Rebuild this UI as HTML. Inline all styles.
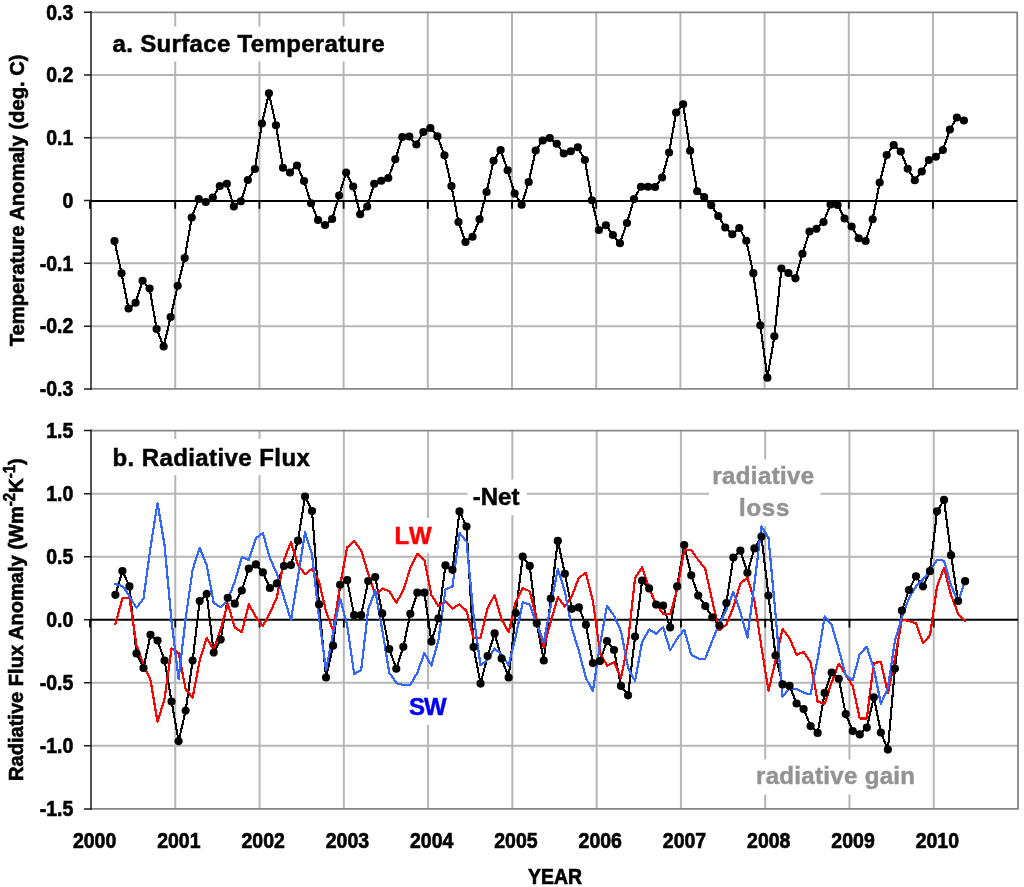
<!DOCTYPE html>
<html lang="en"><head><meta charset="utf-8"><title>Surface Temperature and Radiative Flux</title>
<style>html,body{margin:0;padding:0;background:#fff}body{width:1024px;height:887px;overflow:hidden}svg{display:block}text{font-family:"Liberation Sans", sans-serif;font-weight:bold}</style>
</head><body>
<svg width="1024" height="887" viewBox="0 0 1024 887">
<rect x="0" y="0" width="1024" height="887" fill="#fff"/>
<path d="M91 75.07H1017.2M91 137.83H1017.2M91 263.37H1017.2M91 326.13H1017.2M175.2 12.3V388.9M259.4 12.3V388.9M343.6 12.3V388.9M427.8 12.3V388.9M512 12.3V388.9M596.2 12.3V388.9M680.4 12.3V388.9M764.6 12.3V388.9M848.8 12.3V388.9M933 12.3V388.9" stroke="#b6b6b6" stroke-width="2" fill="none"/>
<rect x="105" y="26.5" width="287" height="35" fill="#fff"/>
<path d="M91 12.3H1017.2V388.9H91" stroke="#878787" stroke-width="1.8" fill="none"/>
<path d="M91 11.3V389.9" stroke="#1a1a1a" stroke-width="1.5" fill="none"/>
<path d="M84 12.3H91M84 75.07H91M84 137.83H91M84 200.6H91M84 263.37H91M84 326.13H91M84 388.9H91" stroke="#1a1a1a" stroke-width="1.5" fill="none"/>
<text transform="translate(73.3,19.6) scale(0.975,1.08)" font-size="20" text-anchor="end" stroke="#000" stroke-width="0.6">0.3</text>
<text transform="translate(73.3,82.37) scale(0.975,1.08)" font-size="20" text-anchor="end" stroke="#000" stroke-width="0.6">0.2</text>
<text transform="translate(73.3,145.13) scale(0.975,1.08)" font-size="20" text-anchor="end" stroke="#000" stroke-width="0.6">0.1</text>
<text transform="translate(73.3,207.9) scale(0.975,1.08)" font-size="20" text-anchor="end" stroke="#000" stroke-width="0.6">0</text>
<text transform="translate(73.3,270.67) scale(0.975,1.08)" font-size="20" text-anchor="end" stroke="#000" stroke-width="0.6">-0.1</text>
<text transform="translate(73.3,333.43) scale(0.975,1.08)" font-size="20" text-anchor="end" stroke="#000" stroke-width="0.6">-0.2</text>
<text transform="translate(73.3,396.2) scale(0.975,1.08)" font-size="20" text-anchor="end" stroke="#000" stroke-width="0.6">-0.3</text>
<path d="M91 493.65H1018M91 556.7H1018M91 682.8H1018M91 745.85H1018M175.27 430.6V808.9M259.55 430.6V808.9M343.82 430.6V808.9M428.09 430.6V808.9M512.36 430.6V808.9M596.64 430.6V808.9M680.91 430.6V808.9M765.18 430.6V808.9M849.45 430.6V808.9M933.73 430.6V808.9" stroke="#b6b6b6" stroke-width="2" fill="none"/>
<rect x="105" y="439" width="213" height="36" fill="#fff"/>
<rect x="390" y="518" width="48" height="35" fill="#fff"/>
<rect x="467.5" y="479.5" width="59.5" height="35.5" fill="#fff"/>
<rect x="709" y="459.5" width="111.5" height="66.5" fill="#fff"/>
<rect x="402" y="689.4" width="50" height="35.4" fill="#fff"/>
<rect x="750" y="759.5" width="171" height="35" fill="#fff"/>
<path d="M91 430.6H1018V808.9H91" stroke="#878787" stroke-width="1.8" fill="none"/>
<path d="M91 429.6V809.9" stroke="#1a1a1a" stroke-width="1.5" fill="none"/>
<path d="M84 430.6H91M84 493.65H91M84 556.7H91M84 619.75H91M84 682.8H91M84 745.85H91M84 808.9H91" stroke="#1a1a1a" stroke-width="1.5" fill="none"/>
<text transform="translate(73.3,437.9) scale(0.975,1.08)" font-size="20" text-anchor="end" stroke="#000" stroke-width="0.6">1.5</text>
<text transform="translate(73.3,500.95) scale(0.975,1.08)" font-size="20" text-anchor="end" stroke="#000" stroke-width="0.6">1.0</text>
<text transform="translate(73.3,564) scale(0.975,1.08)" font-size="20" text-anchor="end" stroke="#000" stroke-width="0.6">0.5</text>
<text transform="translate(73.3,627.05) scale(0.975,1.08)" font-size="20" text-anchor="end" stroke="#000" stroke-width="0.6">0.0</text>
<text transform="translate(73.3,690.1) scale(0.975,1.08)" font-size="20" text-anchor="end" stroke="#000" stroke-width="0.6">-0.5</text>
<text transform="translate(73.3,753.15) scale(0.975,1.08)" font-size="20" text-anchor="end" stroke="#000" stroke-width="0.6">-1.0</text>
<text transform="translate(73.3,816.2) scale(0.975,1.08)" font-size="20" text-anchor="end" stroke="#000" stroke-width="0.6">-1.5</text>
<path d="M90 201H1017.2" stroke="#000" stroke-width="2.1" fill="none"/><path d="M90 201V208.8M175.2 201V208.8M259.4 201V208.8M343.6 201V208.8M427.8 201V208.8M512 201V208.8M596.2 201V208.8M680.4 201V208.8M764.6 201V208.8M848.8 201V208.8M933 201V208.8" stroke="#000" stroke-width="1.8" fill="none"/>
<path d="M90 619.75H1018" stroke="#000" stroke-width="2.1" fill="none"/><path d="M90 619.75V627.55M175.27 619.75V627.55M259.55 619.75V627.55M343.82 619.75V627.55M428.09 619.75V627.55M512.36 619.75V627.55M596.64 619.75V627.55M680.91 619.75V627.55M765.18 619.75V627.55M849.45 619.75V627.55M933.73 619.75V627.55" stroke="#000" stroke-width="1.8" fill="none"/>
<polyline points="115.4,594.8 122.42,571 129.44,586.4 136.47,653.5 143.49,668 150.51,634.8 157.53,640.6 164.56,660.5 171.58,701.5 178.6,741.2 185.62,710.7 192.65,660.5 199.67,601 206.69,593.8 213.72,652.5 220.74,639.5 227.76,597.8 234.78,603.7 241.81,590.5 248.83,568.6 255.85,564.4 262.87,572.4 269.89,588 276.92,583.4 283.94,566 290.96,565.1 297.99,540.7 305.01,496.6 312.03,511 319.05,604.4 326.08,677.5 333.1,645.7 340.12,584.8 347.14,580.2 354.16,615.2 361.19,615.2 368.21,581 375.23,577.1 382.25,613.4 389.28,649.1 396.3,668.75 403.32,646.8 410.35,613.8 417.37,592.7 424.39,592.7 431.41,641.6 438.44,618.4 445.46,565.4 452.48,569.8 459.5,511.4 466.52,526.5 473.55,647.1 480.57,683.6 487.59,656.1 494.62,633.4 501.64,658.6 508.66,677.5 515.68,613.2 522.71,556.6 529.73,565.9 536.75,623.3 543.77,660.5 550.79,598.5 557.82,540.9 564.84,573.75 571.86,608.8 578.88,607.4 585.91,624.8 592.93,663.1 599.95,661.1 606.98,641 614,650 621.02,685.9 628.04,695.3 635.06,636.6 642.09,580.6 649.11,588.4 656.13,604.6 663.15,605.6 670.18,627.4 677.2,586.4 684.22,545 691.25,575.3 698.27,595.6 705.29,606 712.31,617.3 719.33,625.5 726.36,603 733.38,557.5 740.4,550.7 747.42,572.8 754.45,548.4 761.47,536.6 768.49,595.6 775.51,655.5 782.54,684.4 789.56,685.9 796.58,703.5 803.61,709 810.63,726.1 817.65,732.9 824.67,692.9 831.69,672.5 838.72,678.75 845.74,714.1 852.76,731.1 859.78,734.4 866.81,727.6 873.83,697.3 880.85,732.5 887.88,749.6 894.9,668.6 901.92,610.5 908.94,590 915.96,576.3 922.99,586.4 930.01,571.2 937.03,511.25 944.05,499.9 951.08,555.2 958.1,601.1 965.12,581.2" fill="none" stroke="#000" stroke-width="2.1" stroke-linejoin="round" stroke-linecap="round" shape-rendering="crispEdges"/>
<polyline points="115.4,624 122.42,598.2 129.44,597.8 136.47,645 143.49,664.5 150.51,680 157.53,722 164.56,698.6 171.58,648.4 178.6,653.1 185.62,688.9 192.65,697.7 199.67,660.5 206.69,637.9 213.72,649.9 220.74,629 227.76,603.7 234.78,627.4 241.81,632.2 248.83,604.2 255.85,617 262.87,626 269.89,613 276.92,597.2 283.94,560.1 290.96,542.1 297.99,565 305.01,574.3 312.03,568.9 319.05,581.6 326.08,611.5 333.1,630.3 340.12,585.5 347.14,547.4 354.16,540.9 361.19,550.3 368.21,573.75 375.23,595.2 382.25,588.4 389.28,591.3 396.3,602.7 403.32,590.4 410.35,567.9 417.37,553.8 424.39,560.1 431.41,595.2 438.44,606 445.46,601.1 452.48,608.5 459.5,604.2 466.52,611 473.55,638 480.57,637.7 487.59,607.9 494.62,595.2 501.64,619.5 508.66,632.2 515.68,602 522.71,588 529.73,591.3 536.75,619.5 543.77,647.5 550.79,621.5 557.82,597.2 564.84,606.6 571.86,596.2 578.88,577.7 585.91,572.8 592.93,601.1 599.95,652 606.98,665.8 614,662.1 621.02,678.1 628.04,642 635.06,577.7 642.09,567.3 649.11,588.4 656.13,604 663.15,613.8 670.18,614.4 677.2,589.4 684.22,550.3 691.25,549.9 698.27,560.1 705.29,568.9 712.31,601.1 719.33,630.4 726.36,624.5 733.38,607 740.4,583.5 747.42,577.7 754.45,601.1 761.47,647 768.49,690.8 775.51,660.7 782.54,628.9 789.56,638.1 796.58,654.7 803.61,652 810.63,662.6 817.65,701.7 824.67,703.8 831.69,682.3 838.72,663.7 845.74,674.5 852.76,686.2 859.78,718.4 866.81,718.4 873.83,663.1 880.85,661.8 887.88,693 894.9,658.8 901.92,619.5 908.94,621.2 915.96,623.2 922.99,643 930.01,635.4 937.03,586.4 944.05,567.9 951.08,595.2 958.1,613.8 965.12,621" fill="none" stroke="#ff0000" stroke-width="2.2" stroke-linejoin="round" stroke-linecap="round" shape-rendering="crispEdges"/>
<polyline points="115.4,584.1 122.42,585.9 129.44,596.2 136.47,607.9 143.49,598.6 150.51,547.4 157.53,503 164.56,545.4 171.58,621.5 178.6,679.1 185.62,618.5 192.65,569.8 199.67,547.8 206.69,565 213.72,603 220.74,607.3 227.76,600.1 234.78,581.6 241.81,557.1 248.83,560.1 255.85,538.2 262.87,533 269.89,558.1 276.92,573.75 283.94,597.2 290.96,620.3 297.99,577 305.01,532.3 312.03,554.2 319.05,618 326.08,670.3 333.1,633 340.12,598.5 347.14,625 354.16,674.2 361.19,669.9 368.21,609.5 375.23,590.4 382.25,630 389.28,672.7 396.3,683 403.32,685.2 410.35,684.8 417.37,672.7 424.39,653.1 431.41,665.4 438.44,640 445.46,589.6 452.48,586.4 459.5,533 466.52,541.5 473.55,615.6 480.57,665.4 487.59,659.6 494.62,648.6 501.64,654.3 508.66,665.4 515.68,637 522.71,602.2 529.73,604.5 536.75,624.4 543.77,642 550.79,605.5 557.82,568.9 564.84,591.3 571.86,628.4 578.88,651 585.91,678.1 592.93,690.8 599.95,645 606.98,605.6 614,615.7 621.02,631.3 628.04,667.4 635.06,681.1 642.09,642 649.11,629.5 656.13,633.7 663.15,627.4 670.18,650.2 677.2,638.6 684.22,629.8 691.25,654.7 698.27,658.6 705.29,658.6 712.31,640.5 719.33,623.5 726.36,609.8 733.38,591.7 740.4,612.2 747.42,637.5 754.45,583.5 761.47,526.5 768.49,537.6 775.51,614 782.54,696.7 789.56,688.3 796.58,688.9 803.61,692.8 810.63,694.3 817.65,659 824.67,616.5 831.69,625 838.72,649.1 845.74,675.4 852.76,680.3 859.78,653.9 866.81,646.7 873.83,668.6 880.85,703.75 887.88,688.1 894.9,641 901.92,617 908.94,598.2 915.96,586.4 922.99,579.6 930.01,570.8 937.03,559.7 944.05,560.7 951.08,585.5 958.1,602 965.12,581.2" fill="none" stroke="#3366ff" stroke-width="2.2" stroke-linejoin="round" stroke-linecap="round" shape-rendering="crispEdges"/>
<path d="M111.3 594.8a4.1 4.1 0 1 0 8.2 0a4.1 4.1 0 1 0 -8.2 0zM118.32 571a4.1 4.1 0 1 0 8.2 0a4.1 4.1 0 1 0 -8.2 0zM125.34 586.4a4.1 4.1 0 1 0 8.2 0a4.1 4.1 0 1 0 -8.2 0zM132.37 653.5a4.1 4.1 0 1 0 8.2 0a4.1 4.1 0 1 0 -8.2 0zM139.39 668a4.1 4.1 0 1 0 8.2 0a4.1 4.1 0 1 0 -8.2 0zM146.41 634.8a4.1 4.1 0 1 0 8.2 0a4.1 4.1 0 1 0 -8.2 0zM153.44 640.6a4.1 4.1 0 1 0 8.2 0a4.1 4.1 0 1 0 -8.2 0zM160.46 660.5a4.1 4.1 0 1 0 8.2 0a4.1 4.1 0 1 0 -8.2 0zM167.48 701.5a4.1 4.1 0 1 0 8.2 0a4.1 4.1 0 1 0 -8.2 0zM174.5 741.2a4.1 4.1 0 1 0 8.2 0a4.1 4.1 0 1 0 -8.2 0zM181.53 710.7a4.1 4.1 0 1 0 8.2 0a4.1 4.1 0 1 0 -8.2 0zM188.55 660.5a4.1 4.1 0 1 0 8.2 0a4.1 4.1 0 1 0 -8.2 0zM195.57 601a4.1 4.1 0 1 0 8.2 0a4.1 4.1 0 1 0 -8.2 0zM202.59 593.8a4.1 4.1 0 1 0 8.2 0a4.1 4.1 0 1 0 -8.2 0zM209.62 652.5a4.1 4.1 0 1 0 8.2 0a4.1 4.1 0 1 0 -8.2 0zM216.64 639.5a4.1 4.1 0 1 0 8.2 0a4.1 4.1 0 1 0 -8.2 0zM223.66 597.8a4.1 4.1 0 1 0 8.2 0a4.1 4.1 0 1 0 -8.2 0zM230.68 603.7a4.1 4.1 0 1 0 8.2 0a4.1 4.1 0 1 0 -8.2 0zM237.71 590.5a4.1 4.1 0 1 0 8.2 0a4.1 4.1 0 1 0 -8.2 0zM244.73 568.6a4.1 4.1 0 1 0 8.2 0a4.1 4.1 0 1 0 -8.2 0zM251.75 564.4a4.1 4.1 0 1 0 8.2 0a4.1 4.1 0 1 0 -8.2 0zM258.77 572.4a4.1 4.1 0 1 0 8.2 0a4.1 4.1 0 1 0 -8.2 0zM265.79 588a4.1 4.1 0 1 0 8.2 0a4.1 4.1 0 1 0 -8.2 0zM272.82 583.4a4.1 4.1 0 1 0 8.2 0a4.1 4.1 0 1 0 -8.2 0zM279.84 566a4.1 4.1 0 1 0 8.2 0a4.1 4.1 0 1 0 -8.2 0zM286.86 565.1a4.1 4.1 0 1 0 8.2 0a4.1 4.1 0 1 0 -8.2 0zM293.88 540.7a4.1 4.1 0 1 0 8.2 0a4.1 4.1 0 1 0 -8.2 0zM300.91 496.6a4.1 4.1 0 1 0 8.2 0a4.1 4.1 0 1 0 -8.2 0zM307.93 511a4.1 4.1 0 1 0 8.2 0a4.1 4.1 0 1 0 -8.2 0zM314.95 604.4a4.1 4.1 0 1 0 8.2 0a4.1 4.1 0 1 0 -8.2 0zM321.98 677.5a4.1 4.1 0 1 0 8.2 0a4.1 4.1 0 1 0 -8.2 0zM329 645.7a4.1 4.1 0 1 0 8.2 0a4.1 4.1 0 1 0 -8.2 0zM336.02 584.8a4.1 4.1 0 1 0 8.2 0a4.1 4.1 0 1 0 -8.2 0zM343.04 580.2a4.1 4.1 0 1 0 8.2 0a4.1 4.1 0 1 0 -8.2 0zM350.06 615.2a4.1 4.1 0 1 0 8.2 0a4.1 4.1 0 1 0 -8.2 0zM357.09 615.2a4.1 4.1 0 1 0 8.2 0a4.1 4.1 0 1 0 -8.2 0zM364.11 581a4.1 4.1 0 1 0 8.2 0a4.1 4.1 0 1 0 -8.2 0zM371.13 577.1a4.1 4.1 0 1 0 8.2 0a4.1 4.1 0 1 0 -8.2 0zM378.15 613.4a4.1 4.1 0 1 0 8.2 0a4.1 4.1 0 1 0 -8.2 0zM385.18 649.1a4.1 4.1 0 1 0 8.2 0a4.1 4.1 0 1 0 -8.2 0zM392.2 668.75a4.1 4.1 0 1 0 8.2 0a4.1 4.1 0 1 0 -8.2 0zM399.22 646.8a4.1 4.1 0 1 0 8.2 0a4.1 4.1 0 1 0 -8.2 0zM406.25 613.8a4.1 4.1 0 1 0 8.2 0a4.1 4.1 0 1 0 -8.2 0zM413.27 592.7a4.1 4.1 0 1 0 8.2 0a4.1 4.1 0 1 0 -8.2 0zM420.29 592.7a4.1 4.1 0 1 0 8.2 0a4.1 4.1 0 1 0 -8.2 0zM427.31 641.6a4.1 4.1 0 1 0 8.2 0a4.1 4.1 0 1 0 -8.2 0zM434.34 618.4a4.1 4.1 0 1 0 8.2 0a4.1 4.1 0 1 0 -8.2 0zM441.36 565.4a4.1 4.1 0 1 0 8.2 0a4.1 4.1 0 1 0 -8.2 0zM448.38 569.8a4.1 4.1 0 1 0 8.2 0a4.1 4.1 0 1 0 -8.2 0zM455.4 511.4a4.1 4.1 0 1 0 8.2 0a4.1 4.1 0 1 0 -8.2 0zM462.42 526.5a4.1 4.1 0 1 0 8.2 0a4.1 4.1 0 1 0 -8.2 0zM469.45 647.1a4.1 4.1 0 1 0 8.2 0a4.1 4.1 0 1 0 -8.2 0zM476.47 683.6a4.1 4.1 0 1 0 8.2 0a4.1 4.1 0 1 0 -8.2 0zM483.49 656.1a4.1 4.1 0 1 0 8.2 0a4.1 4.1 0 1 0 -8.2 0zM490.51 633.4a4.1 4.1 0 1 0 8.2 0a4.1 4.1 0 1 0 -8.2 0zM497.54 658.6a4.1 4.1 0 1 0 8.2 0a4.1 4.1 0 1 0 -8.2 0zM504.56 677.5a4.1 4.1 0 1 0 8.2 0a4.1 4.1 0 1 0 -8.2 0zM511.58 613.2a4.1 4.1 0 1 0 8.2 0a4.1 4.1 0 1 0 -8.2 0zM518.61 556.6a4.1 4.1 0 1 0 8.2 0a4.1 4.1 0 1 0 -8.2 0zM525.63 565.9a4.1 4.1 0 1 0 8.2 0a4.1 4.1 0 1 0 -8.2 0zM532.65 623.3a4.1 4.1 0 1 0 8.2 0a4.1 4.1 0 1 0 -8.2 0zM539.67 660.5a4.1 4.1 0 1 0 8.2 0a4.1 4.1 0 1 0 -8.2 0zM546.69 598.5a4.1 4.1 0 1 0 8.2 0a4.1 4.1 0 1 0 -8.2 0zM553.72 540.9a4.1 4.1 0 1 0 8.2 0a4.1 4.1 0 1 0 -8.2 0zM560.74 573.75a4.1 4.1 0 1 0 8.2 0a4.1 4.1 0 1 0 -8.2 0zM567.76 608.8a4.1 4.1 0 1 0 8.2 0a4.1 4.1 0 1 0 -8.2 0zM574.78 607.4a4.1 4.1 0 1 0 8.2 0a4.1 4.1 0 1 0 -8.2 0zM581.81 624.8a4.1 4.1 0 1 0 8.2 0a4.1 4.1 0 1 0 -8.2 0zM588.83 663.1a4.1 4.1 0 1 0 8.2 0a4.1 4.1 0 1 0 -8.2 0zM595.85 661.1a4.1 4.1 0 1 0 8.2 0a4.1 4.1 0 1 0 -8.2 0zM602.88 641a4.1 4.1 0 1 0 8.2 0a4.1 4.1 0 1 0 -8.2 0zM609.9 650a4.1 4.1 0 1 0 8.2 0a4.1 4.1 0 1 0 -8.2 0zM616.92 685.9a4.1 4.1 0 1 0 8.2 0a4.1 4.1 0 1 0 -8.2 0zM623.94 695.3a4.1 4.1 0 1 0 8.2 0a4.1 4.1 0 1 0 -8.2 0zM630.96 636.6a4.1 4.1 0 1 0 8.2 0a4.1 4.1 0 1 0 -8.2 0zM637.99 580.6a4.1 4.1 0 1 0 8.2 0a4.1 4.1 0 1 0 -8.2 0zM645.01 588.4a4.1 4.1 0 1 0 8.2 0a4.1 4.1 0 1 0 -8.2 0zM652.03 604.6a4.1 4.1 0 1 0 8.2 0a4.1 4.1 0 1 0 -8.2 0zM659.05 605.6a4.1 4.1 0 1 0 8.2 0a4.1 4.1 0 1 0 -8.2 0zM666.08 627.4a4.1 4.1 0 1 0 8.2 0a4.1 4.1 0 1 0 -8.2 0zM673.1 586.4a4.1 4.1 0 1 0 8.2 0a4.1 4.1 0 1 0 -8.2 0zM680.12 545a4.1 4.1 0 1 0 8.2 0a4.1 4.1 0 1 0 -8.2 0zM687.14 575.3a4.1 4.1 0 1 0 8.2 0a4.1 4.1 0 1 0 -8.2 0zM694.17 595.6a4.1 4.1 0 1 0 8.2 0a4.1 4.1 0 1 0 -8.2 0zM701.19 606a4.1 4.1 0 1 0 8.2 0a4.1 4.1 0 1 0 -8.2 0zM708.21 617.3a4.1 4.1 0 1 0 8.2 0a4.1 4.1 0 1 0 -8.2 0zM715.23 625.5a4.1 4.1 0 1 0 8.2 0a4.1 4.1 0 1 0 -8.2 0zM722.26 603a4.1 4.1 0 1 0 8.2 0a4.1 4.1 0 1 0 -8.2 0zM729.28 557.5a4.1 4.1 0 1 0 8.2 0a4.1 4.1 0 1 0 -8.2 0zM736.3 550.7a4.1 4.1 0 1 0 8.2 0a4.1 4.1 0 1 0 -8.2 0zM743.32 572.8a4.1 4.1 0 1 0 8.2 0a4.1 4.1 0 1 0 -8.2 0zM750.35 548.4a4.1 4.1 0 1 0 8.2 0a4.1 4.1 0 1 0 -8.2 0zM757.37 536.6a4.1 4.1 0 1 0 8.2 0a4.1 4.1 0 1 0 -8.2 0zM764.39 595.6a4.1 4.1 0 1 0 8.2 0a4.1 4.1 0 1 0 -8.2 0zM771.41 655.5a4.1 4.1 0 1 0 8.2 0a4.1 4.1 0 1 0 -8.2 0zM778.44 684.4a4.1 4.1 0 1 0 8.2 0a4.1 4.1 0 1 0 -8.2 0zM785.46 685.9a4.1 4.1 0 1 0 8.2 0a4.1 4.1 0 1 0 -8.2 0zM792.48 703.5a4.1 4.1 0 1 0 8.2 0a4.1 4.1 0 1 0 -8.2 0zM799.5 709a4.1 4.1 0 1 0 8.2 0a4.1 4.1 0 1 0 -8.2 0zM806.53 726.1a4.1 4.1 0 1 0 8.2 0a4.1 4.1 0 1 0 -8.2 0zM813.55 732.9a4.1 4.1 0 1 0 8.2 0a4.1 4.1 0 1 0 -8.2 0zM820.57 692.9a4.1 4.1 0 1 0 8.2 0a4.1 4.1 0 1 0 -8.2 0zM827.59 672.5a4.1 4.1 0 1 0 8.2 0a4.1 4.1 0 1 0 -8.2 0zM834.62 678.75a4.1 4.1 0 1 0 8.2 0a4.1 4.1 0 1 0 -8.2 0zM841.64 714.1a4.1 4.1 0 1 0 8.2 0a4.1 4.1 0 1 0 -8.2 0zM848.66 731.1a4.1 4.1 0 1 0 8.2 0a4.1 4.1 0 1 0 -8.2 0zM855.68 734.4a4.1 4.1 0 1 0 8.2 0a4.1 4.1 0 1 0 -8.2 0zM862.71 727.6a4.1 4.1 0 1 0 8.2 0a4.1 4.1 0 1 0 -8.2 0zM869.73 697.3a4.1 4.1 0 1 0 8.2 0a4.1 4.1 0 1 0 -8.2 0zM876.75 732.5a4.1 4.1 0 1 0 8.2 0a4.1 4.1 0 1 0 -8.2 0zM883.77 749.6a4.1 4.1 0 1 0 8.2 0a4.1 4.1 0 1 0 -8.2 0zM890.8 668.6a4.1 4.1 0 1 0 8.2 0a4.1 4.1 0 1 0 -8.2 0zM897.82 610.5a4.1 4.1 0 1 0 8.2 0a4.1 4.1 0 1 0 -8.2 0zM904.84 590a4.1 4.1 0 1 0 8.2 0a4.1 4.1 0 1 0 -8.2 0zM911.86 576.3a4.1 4.1 0 1 0 8.2 0a4.1 4.1 0 1 0 -8.2 0zM918.89 586.4a4.1 4.1 0 1 0 8.2 0a4.1 4.1 0 1 0 -8.2 0zM925.91 571.2a4.1 4.1 0 1 0 8.2 0a4.1 4.1 0 1 0 -8.2 0zM932.93 511.25a4.1 4.1 0 1 0 8.2 0a4.1 4.1 0 1 0 -8.2 0zM939.95 499.9a4.1 4.1 0 1 0 8.2 0a4.1 4.1 0 1 0 -8.2 0zM946.98 555.2a4.1 4.1 0 1 0 8.2 0a4.1 4.1 0 1 0 -8.2 0zM954 601.1a4.1 4.1 0 1 0 8.2 0a4.1 4.1 0 1 0 -8.2 0zM961.02 581.2a4.1 4.1 0 1 0 8.2 0a4.1 4.1 0 1 0 -8.2 0z" fill="#000"/>
<polyline points="114.5,241 121.52,273.25 128.54,308.5 135.56,302.75 142.58,280.75 149.6,288.5 156.62,329 163.64,346.5 170.66,317 177.68,285.75 184.7,258 191.72,217.5 198.74,199 205.76,202 212.78,197.5 219.8,186 226.82,183.75 233.84,206.5 240.86,201.25 247.88,180 254.9,169 261.92,123.5 268.94,93.25 275.96,125.25 282.98,167.75 290,172.5 297.02,165.5 304.04,181 311.06,203.25 318.08,220 325.1,225 332.12,219 339.14,195.5 346.16,172.5 353.18,186.5 360.2,214.25 367.22,206.5 374.24,183.75 381.26,180.75 388.28,178 395.3,159.25 402.32,137 409.34,136.5 416.36,144.5 423.38,132 430.4,128 437.42,136.25 444.44,155.25 451.46,186 458.48,222 465.5,242 472.52,236.75 479.54,219.25 486.56,192 493.58,160.75 500.6,150 507.62,170.25 514.64,193.5 521.66,204.75 528.68,182 535.7,150.5 542.72,140.5 549.74,138 556.76,143.75 563.78,153.5 570.8,151.25 577.82,147.25 584.84,160 591.86,200.25 598.88,230 605.9,225.25 612.92,235 619.94,243.25 626.96,223 633.98,199 641,186.75 648.02,186.75 655.04,187 662.06,177.5 669.08,152.5 676.1,112.5 683.12,104.25 690.14,150.75 697.16,191.25 704.18,197 711.2,205.25 718.22,216 725.24,227.5 732.26,234.25 739.28,228 746.3,240.75 753.32,273.2 760.34,325.3 767.36,377.7 774.38,336.3 781.4,268.5 788.42,273 795.44,278.3 802.46,253.75 809.48,231.5 816.5,228.75 823.52,222 830.54,204.5 837.56,205 844.58,218.5 851.6,226.5 858.62,238.25 865.64,241 872.66,219.25 879.68,182.5 886.7,155 893.72,145 900.74,151.5 907.76,168.75 914.78,180.25 921.8,171.5 928.82,160 935.84,156.75 942.86,150 949.88,129.5 956.9,117.5 963.92,120.5" fill="none" stroke="#000" stroke-width="2.1" stroke-linejoin="round" stroke-linecap="round" shape-rendering="crispEdges"/>
<path d="M110.4 241a4.1 4.1 0 1 0 8.2 0a4.1 4.1 0 1 0 -8.2 0zM117.42 273.25a4.1 4.1 0 1 0 8.2 0a4.1 4.1 0 1 0 -8.2 0zM124.44 308.5a4.1 4.1 0 1 0 8.2 0a4.1 4.1 0 1 0 -8.2 0zM131.46 302.75a4.1 4.1 0 1 0 8.2 0a4.1 4.1 0 1 0 -8.2 0zM138.48 280.75a4.1 4.1 0 1 0 8.2 0a4.1 4.1 0 1 0 -8.2 0zM145.5 288.5a4.1 4.1 0 1 0 8.2 0a4.1 4.1 0 1 0 -8.2 0zM152.52 329a4.1 4.1 0 1 0 8.2 0a4.1 4.1 0 1 0 -8.2 0zM159.54 346.5a4.1 4.1 0 1 0 8.2 0a4.1 4.1 0 1 0 -8.2 0zM166.56 317a4.1 4.1 0 1 0 8.2 0a4.1 4.1 0 1 0 -8.2 0zM173.58 285.75a4.1 4.1 0 1 0 8.2 0a4.1 4.1 0 1 0 -8.2 0zM180.6 258a4.1 4.1 0 1 0 8.2 0a4.1 4.1 0 1 0 -8.2 0zM187.62 217.5a4.1 4.1 0 1 0 8.2 0a4.1 4.1 0 1 0 -8.2 0zM194.64 199a4.1 4.1 0 1 0 8.2 0a4.1 4.1 0 1 0 -8.2 0zM201.66 202a4.1 4.1 0 1 0 8.2 0a4.1 4.1 0 1 0 -8.2 0zM208.68 197.5a4.1 4.1 0 1 0 8.2 0a4.1 4.1 0 1 0 -8.2 0zM215.7 186a4.1 4.1 0 1 0 8.2 0a4.1 4.1 0 1 0 -8.2 0zM222.72 183.75a4.1 4.1 0 1 0 8.2 0a4.1 4.1 0 1 0 -8.2 0zM229.74 206.5a4.1 4.1 0 1 0 8.2 0a4.1 4.1 0 1 0 -8.2 0zM236.76 201.25a4.1 4.1 0 1 0 8.2 0a4.1 4.1 0 1 0 -8.2 0zM243.78 180a4.1 4.1 0 1 0 8.2 0a4.1 4.1 0 1 0 -8.2 0zM250.8 169a4.1 4.1 0 1 0 8.2 0a4.1 4.1 0 1 0 -8.2 0zM257.82 123.5a4.1 4.1 0 1 0 8.2 0a4.1 4.1 0 1 0 -8.2 0zM264.84 93.25a4.1 4.1 0 1 0 8.2 0a4.1 4.1 0 1 0 -8.2 0zM271.86 125.25a4.1 4.1 0 1 0 8.2 0a4.1 4.1 0 1 0 -8.2 0zM278.88 167.75a4.1 4.1 0 1 0 8.2 0a4.1 4.1 0 1 0 -8.2 0zM285.9 172.5a4.1 4.1 0 1 0 8.2 0a4.1 4.1 0 1 0 -8.2 0zM292.92 165.5a4.1 4.1 0 1 0 8.2 0a4.1 4.1 0 1 0 -8.2 0zM299.94 181a4.1 4.1 0 1 0 8.2 0a4.1 4.1 0 1 0 -8.2 0zM306.96 203.25a4.1 4.1 0 1 0 8.2 0a4.1 4.1 0 1 0 -8.2 0zM313.98 220a4.1 4.1 0 1 0 8.2 0a4.1 4.1 0 1 0 -8.2 0zM321 225a4.1 4.1 0 1 0 8.2 0a4.1 4.1 0 1 0 -8.2 0zM328.02 219a4.1 4.1 0 1 0 8.2 0a4.1 4.1 0 1 0 -8.2 0zM335.04 195.5a4.1 4.1 0 1 0 8.2 0a4.1 4.1 0 1 0 -8.2 0zM342.06 172.5a4.1 4.1 0 1 0 8.2 0a4.1 4.1 0 1 0 -8.2 0zM349.08 186.5a4.1 4.1 0 1 0 8.2 0a4.1 4.1 0 1 0 -8.2 0zM356.1 214.25a4.1 4.1 0 1 0 8.2 0a4.1 4.1 0 1 0 -8.2 0zM363.12 206.5a4.1 4.1 0 1 0 8.2 0a4.1 4.1 0 1 0 -8.2 0zM370.14 183.75a4.1 4.1 0 1 0 8.2 0a4.1 4.1 0 1 0 -8.2 0zM377.16 180.75a4.1 4.1 0 1 0 8.2 0a4.1 4.1 0 1 0 -8.2 0zM384.18 178a4.1 4.1 0 1 0 8.2 0a4.1 4.1 0 1 0 -8.2 0zM391.2 159.25a4.1 4.1 0 1 0 8.2 0a4.1 4.1 0 1 0 -8.2 0zM398.22 137a4.1 4.1 0 1 0 8.2 0a4.1 4.1 0 1 0 -8.2 0zM405.24 136.5a4.1 4.1 0 1 0 8.2 0a4.1 4.1 0 1 0 -8.2 0zM412.26 144.5a4.1 4.1 0 1 0 8.2 0a4.1 4.1 0 1 0 -8.2 0zM419.28 132a4.1 4.1 0 1 0 8.2 0a4.1 4.1 0 1 0 -8.2 0zM426.3 128a4.1 4.1 0 1 0 8.2 0a4.1 4.1 0 1 0 -8.2 0zM433.32 136.25a4.1 4.1 0 1 0 8.2 0a4.1 4.1 0 1 0 -8.2 0zM440.34 155.25a4.1 4.1 0 1 0 8.2 0a4.1 4.1 0 1 0 -8.2 0zM447.36 186a4.1 4.1 0 1 0 8.2 0a4.1 4.1 0 1 0 -8.2 0zM454.38 222a4.1 4.1 0 1 0 8.2 0a4.1 4.1 0 1 0 -8.2 0zM461.4 242a4.1 4.1 0 1 0 8.2 0a4.1 4.1 0 1 0 -8.2 0zM468.42 236.75a4.1 4.1 0 1 0 8.2 0a4.1 4.1 0 1 0 -8.2 0zM475.44 219.25a4.1 4.1 0 1 0 8.2 0a4.1 4.1 0 1 0 -8.2 0zM482.46 192a4.1 4.1 0 1 0 8.2 0a4.1 4.1 0 1 0 -8.2 0zM489.48 160.75a4.1 4.1 0 1 0 8.2 0a4.1 4.1 0 1 0 -8.2 0zM496.5 150a4.1 4.1 0 1 0 8.2 0a4.1 4.1 0 1 0 -8.2 0zM503.52 170.25a4.1 4.1 0 1 0 8.2 0a4.1 4.1 0 1 0 -8.2 0zM510.54 193.5a4.1 4.1 0 1 0 8.2 0a4.1 4.1 0 1 0 -8.2 0zM517.56 204.75a4.1 4.1 0 1 0 8.2 0a4.1 4.1 0 1 0 -8.2 0zM524.58 182a4.1 4.1 0 1 0 8.2 0a4.1 4.1 0 1 0 -8.2 0zM531.6 150.5a4.1 4.1 0 1 0 8.2 0a4.1 4.1 0 1 0 -8.2 0zM538.62 140.5a4.1 4.1 0 1 0 8.2 0a4.1 4.1 0 1 0 -8.2 0zM545.64 138a4.1 4.1 0 1 0 8.2 0a4.1 4.1 0 1 0 -8.2 0zM552.66 143.75a4.1 4.1 0 1 0 8.2 0a4.1 4.1 0 1 0 -8.2 0zM559.68 153.5a4.1 4.1 0 1 0 8.2 0a4.1 4.1 0 1 0 -8.2 0zM566.7 151.25a4.1 4.1 0 1 0 8.2 0a4.1 4.1 0 1 0 -8.2 0zM573.72 147.25a4.1 4.1 0 1 0 8.2 0a4.1 4.1 0 1 0 -8.2 0zM580.74 160a4.1 4.1 0 1 0 8.2 0a4.1 4.1 0 1 0 -8.2 0zM587.76 200.25a4.1 4.1 0 1 0 8.2 0a4.1 4.1 0 1 0 -8.2 0zM594.78 230a4.1 4.1 0 1 0 8.2 0a4.1 4.1 0 1 0 -8.2 0zM601.8 225.25a4.1 4.1 0 1 0 8.2 0a4.1 4.1 0 1 0 -8.2 0zM608.82 235a4.1 4.1 0 1 0 8.2 0a4.1 4.1 0 1 0 -8.2 0zM615.84 243.25a4.1 4.1 0 1 0 8.2 0a4.1 4.1 0 1 0 -8.2 0zM622.86 223a4.1 4.1 0 1 0 8.2 0a4.1 4.1 0 1 0 -8.2 0zM629.88 199a4.1 4.1 0 1 0 8.2 0a4.1 4.1 0 1 0 -8.2 0zM636.9 186.75a4.1 4.1 0 1 0 8.2 0a4.1 4.1 0 1 0 -8.2 0zM643.92 186.75a4.1 4.1 0 1 0 8.2 0a4.1 4.1 0 1 0 -8.2 0zM650.94 187a4.1 4.1 0 1 0 8.2 0a4.1 4.1 0 1 0 -8.2 0zM657.96 177.5a4.1 4.1 0 1 0 8.2 0a4.1 4.1 0 1 0 -8.2 0zM664.98 152.5a4.1 4.1 0 1 0 8.2 0a4.1 4.1 0 1 0 -8.2 0zM672 112.5a4.1 4.1 0 1 0 8.2 0a4.1 4.1 0 1 0 -8.2 0zM679.02 104.25a4.1 4.1 0 1 0 8.2 0a4.1 4.1 0 1 0 -8.2 0zM686.04 150.75a4.1 4.1 0 1 0 8.2 0a4.1 4.1 0 1 0 -8.2 0zM693.06 191.25a4.1 4.1 0 1 0 8.2 0a4.1 4.1 0 1 0 -8.2 0zM700.08 197a4.1 4.1 0 1 0 8.2 0a4.1 4.1 0 1 0 -8.2 0zM707.1 205.25a4.1 4.1 0 1 0 8.2 0a4.1 4.1 0 1 0 -8.2 0zM714.12 216a4.1 4.1 0 1 0 8.2 0a4.1 4.1 0 1 0 -8.2 0zM721.14 227.5a4.1 4.1 0 1 0 8.2 0a4.1 4.1 0 1 0 -8.2 0zM728.16 234.25a4.1 4.1 0 1 0 8.2 0a4.1 4.1 0 1 0 -8.2 0zM735.18 228a4.1 4.1 0 1 0 8.2 0a4.1 4.1 0 1 0 -8.2 0zM742.2 240.75a4.1 4.1 0 1 0 8.2 0a4.1 4.1 0 1 0 -8.2 0zM749.22 273.2a4.1 4.1 0 1 0 8.2 0a4.1 4.1 0 1 0 -8.2 0zM756.24 325.3a4.1 4.1 0 1 0 8.2 0a4.1 4.1 0 1 0 -8.2 0zM763.26 377.7a4.1 4.1 0 1 0 8.2 0a4.1 4.1 0 1 0 -8.2 0zM770.28 336.3a4.1 4.1 0 1 0 8.2 0a4.1 4.1 0 1 0 -8.2 0zM777.3 268.5a4.1 4.1 0 1 0 8.2 0a4.1 4.1 0 1 0 -8.2 0zM784.32 273a4.1 4.1 0 1 0 8.2 0a4.1 4.1 0 1 0 -8.2 0zM791.34 278.3a4.1 4.1 0 1 0 8.2 0a4.1 4.1 0 1 0 -8.2 0zM798.36 253.75a4.1 4.1 0 1 0 8.2 0a4.1 4.1 0 1 0 -8.2 0zM805.38 231.5a4.1 4.1 0 1 0 8.2 0a4.1 4.1 0 1 0 -8.2 0zM812.4 228.75a4.1 4.1 0 1 0 8.2 0a4.1 4.1 0 1 0 -8.2 0zM819.42 222a4.1 4.1 0 1 0 8.2 0a4.1 4.1 0 1 0 -8.2 0zM826.44 204.5a4.1 4.1 0 1 0 8.2 0a4.1 4.1 0 1 0 -8.2 0zM833.46 205a4.1 4.1 0 1 0 8.2 0a4.1 4.1 0 1 0 -8.2 0zM840.48 218.5a4.1 4.1 0 1 0 8.2 0a4.1 4.1 0 1 0 -8.2 0zM847.5 226.5a4.1 4.1 0 1 0 8.2 0a4.1 4.1 0 1 0 -8.2 0zM854.52 238.25a4.1 4.1 0 1 0 8.2 0a4.1 4.1 0 1 0 -8.2 0zM861.54 241a4.1 4.1 0 1 0 8.2 0a4.1 4.1 0 1 0 -8.2 0zM868.56 219.25a4.1 4.1 0 1 0 8.2 0a4.1 4.1 0 1 0 -8.2 0zM875.58 182.5a4.1 4.1 0 1 0 8.2 0a4.1 4.1 0 1 0 -8.2 0zM882.6 155a4.1 4.1 0 1 0 8.2 0a4.1 4.1 0 1 0 -8.2 0zM889.62 145a4.1 4.1 0 1 0 8.2 0a4.1 4.1 0 1 0 -8.2 0zM896.64 151.5a4.1 4.1 0 1 0 8.2 0a4.1 4.1 0 1 0 -8.2 0zM903.66 168.75a4.1 4.1 0 1 0 8.2 0a4.1 4.1 0 1 0 -8.2 0zM910.68 180.25a4.1 4.1 0 1 0 8.2 0a4.1 4.1 0 1 0 -8.2 0zM917.7 171.5a4.1 4.1 0 1 0 8.2 0a4.1 4.1 0 1 0 -8.2 0zM924.72 160a4.1 4.1 0 1 0 8.2 0a4.1 4.1 0 1 0 -8.2 0zM931.74 156.75a4.1 4.1 0 1 0 8.2 0a4.1 4.1 0 1 0 -8.2 0zM938.76 150a4.1 4.1 0 1 0 8.2 0a4.1 4.1 0 1 0 -8.2 0zM945.78 129.5a4.1 4.1 0 1 0 8.2 0a4.1 4.1 0 1 0 -8.2 0zM952.8 117.5a4.1 4.1 0 1 0 8.2 0a4.1 4.1 0 1 0 -8.2 0zM959.82 120.5a4.1 4.1 0 1 0 8.2 0a4.1 4.1 0 1 0 -8.2 0z" fill="#000"/>
<g font-size="24" stroke-width="0.5">
<text x="112.6" y="51.7" letter-spacing="0.33" stroke="#000">a. Surface Temperature</text>
<text x="112.4" y="465.7" letter-spacing="0.42" stroke="#000">b. Radiative Flux</text>
<text x="394.5" y="544" letter-spacing="1.2" fill="#ff0000" stroke="#ff0000">LW</text>
<text x="409.1" y="714.7" letter-spacing="-1" fill="#0000ff" stroke="#0000ff">SW</text>
<text x="472.8" y="505" stroke="#000">-Net</text>
<text x="712.3" y="484.4" letter-spacing="0.4" fill="#939393" stroke="#939393">radiative</text>
<text x="739" y="516" letter-spacing="0.75" fill="#939393" stroke="#939393">loss</text>
<text x="756" y="784.3" letter-spacing="0.33" fill="#939393" stroke="#939393">radiative gain</text>
</g>
<text transform="translate(94.6,847.9) scale(0.975,1.08)" font-size="20" text-anchor="middle" stroke="#000" stroke-width="0.6">2000</text>
<text transform="translate(178.87,847.9) scale(0.975,1.08)" font-size="20" text-anchor="middle" stroke="#000" stroke-width="0.6">2001</text>
<text transform="translate(263.15,847.9) scale(0.975,1.08)" font-size="20" text-anchor="middle" stroke="#000" stroke-width="0.6">2002</text>
<text transform="translate(347.42,847.9) scale(0.975,1.08)" font-size="20" text-anchor="middle" stroke="#000" stroke-width="0.6">2003</text>
<text transform="translate(431.69,847.9) scale(0.975,1.08)" font-size="20" text-anchor="middle" stroke="#000" stroke-width="0.6">2004</text>
<text transform="translate(515.96,847.9) scale(0.975,1.08)" font-size="20" text-anchor="middle" stroke="#000" stroke-width="0.6">2005</text>
<text transform="translate(600.24,847.9) scale(0.975,1.08)" font-size="20" text-anchor="middle" stroke="#000" stroke-width="0.6">2006</text>
<text transform="translate(684.51,847.9) scale(0.975,1.08)" font-size="20" text-anchor="middle" stroke="#000" stroke-width="0.6">2007</text>
<text transform="translate(768.78,847.9) scale(0.975,1.08)" font-size="20" text-anchor="middle" stroke="#000" stroke-width="0.6">2008</text>
<text transform="translate(853.05,847.9) scale(0.975,1.08)" font-size="20" text-anchor="middle" stroke="#000" stroke-width="0.6">2009</text>
<text transform="translate(937.33,847.9) scale(0.975,1.08)" font-size="20" text-anchor="middle" stroke="#000" stroke-width="0.6">2010</text>
<text transform="translate(555,883.6) scale(0.97,1.08)" font-size="20" text-anchor="middle" stroke="#000" stroke-width="0.65">YEAR</text>
<text transform="translate(23.5,200.4) rotate(-90) scale(1.01,1.04)" font-size="20" text-anchor="middle" stroke="#000" stroke-width="0.6">Temperature Anomaly (deg. C)</text>
<text transform="translate(23.3,619.6) rotate(-90) scale(1.004,1.04)" font-size="20" text-anchor="middle" stroke="#000" stroke-width="0.6">Radiative Flux Anomaly (Wm<tspan font-size="15" dy="-8.3">-2</tspan><tspan dy="8.3">K</tspan><tspan font-size="15" dy="-8.3">-1</tspan><tspan dy="8.3">)</tspan></text>
</svg>
</body></html>
